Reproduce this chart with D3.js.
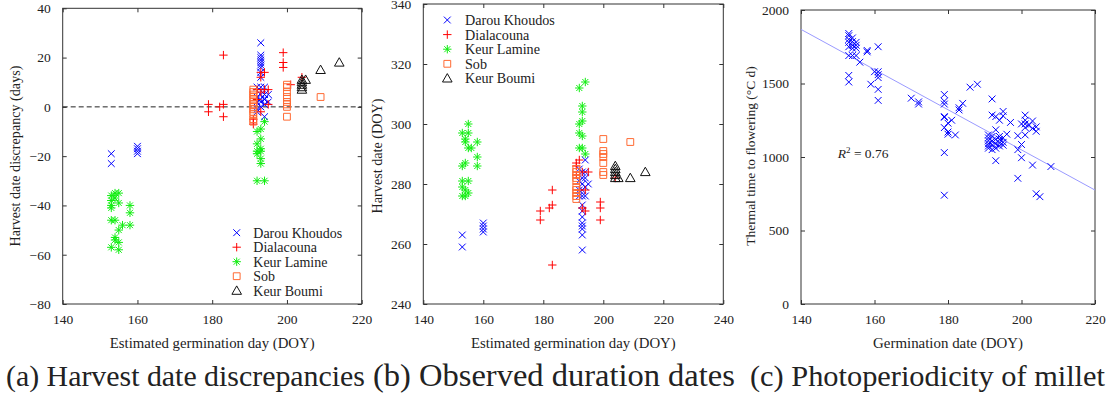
<!DOCTYPE html>
<html><head><meta charset="utf-8">
<script src="https://cdn.jsdelivr.net/npm/d3@7"></script>
<style>
html,body{margin:0;padding:0;background:#fff;}
</style></head>
<body><svg id="chart" width="1110" height="398" font-family="Liberation Serif" style="font-family:'Liberation Serif'"></svg>
<script>
// ---------------- DATA ----------------
const seriesNames = ["Darou Khoudos","Dialacouna","Keur Lamine","Sob","Keur Boumi"];
const seriesColors = ["#0000ff","#ff0000","#11ee11","#ff6a33","#111111"];
const seriesMarkers = ["x","plus","star","square","triangle"];

// (a) germination day vs harvest date discrepancy (days)
const darouA = [[153,-19],[153,-23],[160,-16],[160,-17],[160,-18],[160,-19],[192,8],[192,4],[192,2],[192,-1],[192,-2],[193,26],[193,21],[193,20],[193,19],[193,18],[193,17],[193,16],[193,14],[193,12],[193,8],[193,5],[193,3],[193,2],[193,0],[194,8],[194,5],[194,3],[194,1],[194,-4],[195,5],[195,2]];
const dialaA = [[179,1],[179,-2],[182,0],[183,21],[183,1],[183,-4],[191,-5],[191,-7],[192,7],[192,3],[193,12],[193,14],[193,6],[193,-2],[194,14],[194,7],[195,7],[195,1],[199,22],[199,18],[199,16],[201,9],[204,12]];
const lamineA = [[153,-36],[153,-38],[153,-40],[153,-41],[153,-46],[153,-57],[154,-35],[154,-37],[154,-46],[154,-53],[154,-54],[155,-35],[155,-39],[155,-50],[155,-55],[155,-58],[156,-48],[158,-40],[158,-43],[158,-48],[192,-10],[192,-15],[192,-18],[192,-19],[192,-30],[193,-9],[193,-13],[193,-17],[193,-18],[193,-21],[193,-23],[194,-6],[194,-30]];
const sobA = [[191,7],[191,6],[191,5],[191,4],[191,3],[191,2],[191,1],[191,0],[191,-1],[191,-2],[191,-3],[191,-5],[191,-6],[200,9],[200,8],[200,6],[200,4],[200,2],[200,1],[200,0],[200,-4],[209,4]];
const boumiA = [[204,7],[204,8],[204,9],[204,10],[204,11],[205,11],[209,15],[214,18]];
const zeroLineA = [[140,0],[220,0]];

// (b) germination day vs harvest date (DOY)
const darouB = [[153,263],[153,259],[160,267],[160,266],[160,265],[160,264],[192,285],[192,281],[192,278],[192,276],[193,284],[193,282],[193,280],[193,278],[193,276],[193,273],[193,271],[193,269],[193,267],[193,266],[193,265],[193,263],[193,258],[194,288],[194,284],[194,282],[194,279],[194,276],[195,280]];
const dialaB = [[179,271],[179,268],[182,272],[183,278],[183,273],[183,253],[191,287],[191,286],[191,283],[192,288],[192,278],[193,272],[193,284],[194,278],[194,271],[195,284],[199,274],[199,272],[199,268],[204,282]];
const lamineB = [[153,297],[153,286],[153,281],[153,279],[153,276],[154,295],[154,294],[154,287],[154,278],[154,276],[155,300],[155,297],[155,292],[155,281],[155,277],[156,292],[158,294],[158,289],[158,286],[192,312],[192,300],[192,297],[192,292],[193,306],[193,304],[193,301],[193,296],[193,292],[194,314],[194,290]];
const sobB = [[191,285],[191,284],[191,283],[191,282],[191,281],[191,279],[191,278],[191,277],[191,276],[191,275],[200,295],[200,291],[200,290],[200,289],[200,287],[200,284],[200,283],[209,294]];
const boumiB = [[204,282],[204,283],[204,284],[204,285],[204,286],[205,282],[209,282],[214,284]];

// (c) germination date vs thermal time to flowering
const thermalC = [[153,1840],[153,1825],[153,1800],[153,1780],[153,1750],[153,1690],[153,1555],[153,1510],
[154,1810],[154,1785],[154,1760],[154,1740],[154,1690],[155,1780],[155,1760],[155,1740],[155,1690],[156,1645],
[158,1725],[158,1715],[159,1495],[160,1580],[161,1750],[161,1580],[161,1560],[161,1540],[161,1460],[161,1385],
[170,1400],[172,1375],[172,1360],[179,1425],[179,1380],[179,1360],[179,1275],[179,1270],[179,1200],[179,1030],[179,740],
[180,1230],[180,1170],[180,1155],[181,1250],[182,1150],[183,1335],[183,1320],[184,1365],[186,1475],[188,1495],
[191,1150],[191,1130],[191,1110],[191,1090],[191,1075],[191,1060],[192,1395],[192,1285],[192,1140],[192,1110],[192,1080],[192,1050],
[193,1275],[193,1185],[193,1120],[193,1090],[193,1060],[193,975],[194,1250],[194,1140],[194,1120],[194,1095],[194,1075],
[195,1310],[195,1280],[195,1130],[195,1100],[195,1080],[196,1155],[197,1235],[199,1145],[199,1050],[199,855],
[200,1225],[200,1085],[200,995],[201,1285],[201,1250],[201,1225],[201,1200],[201,1150],[202,1215],
[203,1245],[203,1195],[203,945],[204,1205],[204,1175],[204,750],[205,730],[208,935]];
const fitLineC = [[140,1868],[220,775]];
const r2Label = {x:150, y:990, value:"0.76"};

const ticksA = {x:[140,160,180,200,220], y:[-80,-60,-40,-20,0,20,40]};
const ticksB = {x:[140,160,180,200,220,240], y:[240,260,280,300,320,340]};
const ticksC = {x:[140,160,180,200,220], y:[0,500,1000,1500,2000]};

const captions = ["(a) Harvest date discrepancies","(b) Observed duration dates","(c) Photoperiodicity of millet"];
const xTitles = ["Estimated germination day (DOY)","Estimated germination day (DOY)","Germination date (DOY)"];
const yTitles = ["Harvest date discrepancy (days)","Harvest date (DOY)","Thermal time to flowering (°C d)"];

// ---------------- DRAWING ----------------
const svg = d3.select("#chart");
const FONT = "Liberation Serif";
const INK = "#222";

function markerPath(type){
  switch(type){
    case "x": {const s=3.4; return `M${-s},${-s}L${s},${s}M${-s},${s}L${s},${-s}`;}
    case "plus": {const s=4.2; return `M${-s},0H${s}M0,${-s}V${s}`;}
    case "star": {const s=4.2, t=3.0; return `M${-s},0H${s}M0,${-s}V${s}M${-t},${-t}L${t},${t}M${-t},${t}L${t},${-t}`;}
    case "square": {const s=3.4; return `M${-s},${-s}H${s}V${s}H${-s}Z`;}
    case "triangle": {const s=4.8; return `M0,${-s}L${s},${s*0.75}H${-s}Z`;}
  }
}

function setFont(sel){ return sel.attr("font-family",FONT).style("font-family","'Liberation Serif'"); }
function txt(parent, size){
  return setFont(parent.append("text")).attr("font-size",size).attr("fill",INK);
}
function fitWidth(sel, w){
  const cur = sel.node().getComputedTextLength();
  if (cur > 0) sel.attr("font-size", parseFloat(sel.attr("font-size")) * w / cur);
  return parseFloat(sel.attr("font-size"));
}

function panel(cfg){
  const x = d3.scaleLinear().domain(cfg.xDomain).range([cfg.left, cfg.right]);
  const y = d3.scaleLinear().domain(cfg.yDomain).range([cfg.bottom, cfg.top]);
  const g = svg.append("g");
  const tk = 4;
  const fmt = d3.format("");
  const styleAxis = sel => {
    setFont(sel).attr("font-size",13.5);
    sel.select(".domain").remove();
    sel.selectAll("line").attr("stroke","#333");
    setFont(sel.selectAll("text")).attr("font-size",13.5).attr("fill",INK);
  };
  g.append("g").attr("transform",`translate(0,${cfg.bottom})`)
    .call(d3.axisBottom(x).tickValues(cfg.ticks.x).tickFormat(fmt).tickSizeInner(-tk).tickSizeOuter(0).tickPadding(10))
    .call(styleAxis);
  g.append("g").attr("transform",`translate(0,${cfg.top})`)
    .call(d3.axisTop(x).tickValues(cfg.ticks.x).tickFormat("").tickSizeInner(-tk).tickSizeOuter(0))
    .call(styleAxis);
  g.append("g").attr("transform",`translate(${cfg.left},0)`)
    .call(d3.axisLeft(y).tickValues(cfg.ticks.y).tickFormat(fmt).tickSizeInner(-tk).tickSizeOuter(0).tickPadding(12))
    .call(styleAxis);
  g.append("g").attr("transform",`translate(${cfg.right},0)`)
    .call(d3.axisRight(y).tickValues(cfg.ticks.y).tickFormat("").tickSizeInner(-tk).tickSizeOuter(0))
    .call(styleAxis);
  g.append("rect").attr("x",cfg.left).attr("y",cfg.top).attr("width",cfg.right-cfg.left).attr("height",cfg.bottom-cfg.top)
    .attr("fill","none").attr("stroke","#333").attr("stroke-width",1);

  const xt = txt(g,13.5).attr("x",(cfg.left+cfg.right)/2).attr("y",348).attr("text-anchor","middle").text(cfg.xTitle);
  fitWidth(xt, cfg.xTitleW);
  const yt = txt(g,13.5).attr("transform",`translate(${cfg.yTitleX},156) rotate(-90)`).attr("text-anchor","middle")
    .attr("dy","0.35em").text(cfg.yTitle);
  fitWidth(yt, cfg.yTitleW);
  const cap = txt(g,27).attr("x",cfg.capX).attr("y",386).text(cfg.caption);
  fitWidth(cap, cfg.capW);

  (cfg.lines||[]).forEach(l=>{
    g.append("path").datum(l.data).attr("d",d3.line().x(d=>x(d[0])).y(d=>y(d[1])))
      .attr("fill","none").attr("stroke",l.color).attr("stroke-width",1).attr("stroke-dasharray",l.dash||null);
  });

  cfg.series.forEach(s=>{
    g.append("g").selectAll("path").data(s.data).join("path")
      .attr("transform",d=>`translate(${x(d[0])},${y(d[1])})`)
      .attr("d",markerPath(s.marker)).attr("fill","none").attr("stroke",s.color).attr("stroke-width",1);
  });

  if(cfg.legend){
    let fs = 14;
    cfg.legend.names.forEach((n,i)=>{
      const yy = cfg.legend.y + i*cfg.legend.dy;
      g.append("path").attr("transform",`translate(${cfg.legend.mx},${yy})`).attr("d",markerPath(seriesMarkers[i]))
        .attr("fill","none").attr("stroke",seriesColors[i]).attr("stroke-width",1);
      const t = txt(g,fs).attr("x",cfg.legend.tx).attr("y",yy).attr("dy","0.35em").text(n);
      if(i===0) fs = fitWidth(t, cfg.legend.w0);
    });
  }
  return {x,y,g};
}

const mk = arrs => arrs.map((d,i)=>({data:d,color:seriesColors[i],marker:seriesMarkers[i]}));

panel({left:62.7,right:361.7,top:8.3,bottom:304,xDomain:[140,220],yDomain:[-80,40],ticks:ticksA,
  xTitle:xTitles[0],xTitleW:205,yTitle:yTitles[0],yTitleW:181,yTitleX:15,caption:captions[0],capX:6,capW:359,
  lines:[{data:zeroLineA,color:"#222",dash:"5,3"}],
  series:mk([darouA,dialaA,lamineA,sobA,boumiA]),
  legend:{names:seriesNames,mx:236.7,tx:253.3,y:232.7,dy:14.5,w0:89}});

panel({left:423.3,right:723.3,top:4,bottom:304,xDomain:[140,240],yDomain:[240,340],ticks:ticksB,
  xTitle:xTitles[1],xTitleW:205,yTitle:yTitles[1],yTitleW:115,yTitleX:377,caption:captions[1],capX:373,capW:362,
  series:mk([darouB,dialaB,lamineB,sobB,boumiB]),
  legend:{names:seriesNames,mx:447.3,tx:465,y:20,dy:14.6,w0:90}});

const pc = panel({left:801,right:1095,top:10,bottom:304,xDomain:[140,220],yDomain:[0,2000],ticks:ticksC,
  xTitle:xTitles[2],xTitleW:150,yTitle:yTitles[2],yTitleW:180,yTitleX:750,caption:captions[2],capX:750,capW:355,
  lines:[{data:fitLineC,color:"#9a9aff"}],
  series:[{data:thermalC,color:"#0000ff",marker:"x"}]});

const r2 = txt(pc.g,13.5).attr("x",pc.x(r2Label.x)).attr("y",pc.y(r2Label.y));
r2.append("tspan").attr("font-style","italic").text("R");
r2.append("tspan").attr("font-size",9).attr("dy",-5).text("2");
r2.append("tspan").attr("dy",5).text(" = " + r2Label.value);
</script></body></html>
